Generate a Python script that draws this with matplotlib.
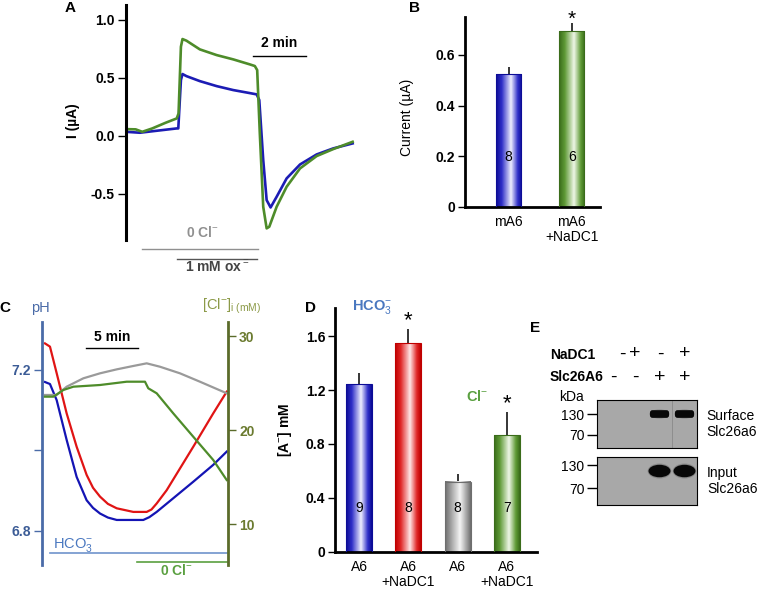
import numpy as np
import matplotlib
matplotlib.use('Agg')
import matplotlib.pyplot as plt
import matplotlib.transforms as mtransforms
from matplotlib.colors import LinearSegmentedColormap
from matplotlib.patches import Rectangle, Ellipse, FancyBboxPatch

plt.rcParams['font.family'] = ['Liberation Sans', 'DejaVu Sans']
plt.rcParams['mathtext.fontset'] = 'custom'
plt.rcParams['mathtext.rm'] = 'Liberation Sans'
plt.rcParams['mathtext.it'] = 'Liberation Sans:italic'
plt.rcParams['mathtext.bf'] = 'Liberation Sans:bold'

# ---- panel A: current traces (time in min, current in uA)
tA_blue = [0.0, 0.54, 1.18, 1.94, 2.0, 2.1, 2.16, 2.31, 2.82, 3.46, 4.09, 4.72, 4.98, 5.08,
           5.23, 5.36, 5.51, 5.74, 6.12, 6.63, 7.26, 7.89, 8.63]
iA_blue = [0.034, 0.026, 0.043, 0.063, 0.063, 0.479, 0.531, 0.513, 0.47, 0.427, 0.393, 0.367,
           0.356, 0.307, -0.209, -0.554, -0.617, -0.525, -0.367, -0.247, -0.161, -0.109, -0.066]
tA_green = [0.0, 0.38, 0.63, 1.01, 1.52, 1.94, 2.01, 2.1, 2.16, 2.31, 2.82, 3.46, 4.09, 4.72,
            4.91, 5.0, 5.1, 5.23, 5.36, 5.46, 5.74, 6.12, 6.63, 7.26, 7.89, 8.63]
iA_green = [0.057, 0.055, 0.034, 0.063, 0.112, 0.149, 0.192, 0.766, 0.832, 0.818, 0.743, 0.694,
            0.657, 0.614, 0.6, 0.565, 0.02, -0.611, -0.797, -0.783, -0.611, -0.439, -0.281,
            -0.175, -0.115, -0.052]
zero_cl_A = [0.61, 5.04]
oxalate_A = [1.94, 5.0]

# ---- panel B: mean currents
b_labels = ['mA6', 'mA6\n+NaDC1']
b_values = [0.525, 0.696]
b_errors = [0.029, 0.029]
b_n = ['8', '6']
b_star = [False, True]

# ---- panel C: pH (left axis) and [Cl-]i (right axis) vs time in min
tC = [0.28, 0.75, 1.38, 2.32, 3.26, 4.2, 4.8, 5.46, 6.2, 7.03, 8.59, 9.85, 10.3, 10.79, 11.73,
      12.98, 14.23, 16.11, 17.38]
ph_red = [7.266, 7.258, 7.192, 7.092, 7.009, 6.939, 6.907, 6.885, 6.867, 6.856, 6.847, 6.847,
          6.853, 6.868, 6.901, 6.955, 7.009, 7.092, 7.146]
tC_blue = [0.28, 0.75, 1.38, 2.32, 3.26, 4.2, 4.8, 5.46, 6.2, 7.03, 8.59, 9.53, 10.1, 10.79,
           12.35, 14.23, 16.11, 17.38]
ph_blue = [7.17, 7.165, 7.125, 7.026, 6.934, 6.876, 6.857, 6.843, 6.833, 6.827, 6.827, 6.827,
           6.834, 6.847, 6.881, 6.922, 6.964, 6.997]
tC_gray = [0.28, 1.38, 2.32, 3.89, 5.46, 7.03, 8.59, 9.85, 11.1, 12.98, 14.86, 17.38]
cl_gray = [23.74, 23.74, 24.62, 25.51, 26.04, 26.46, 26.82, 27.1, 26.74, 26.04, 25.15, 23.92]
tC_green = [0.28, 1.07, 2.01, 2.95, 5.46, 7.97, 9.69, 10.0, 10.79, 12.35, 14.23, 16.11, 17.38]
cl_green = [23.56, 23.56, 24.27, 24.62, 24.8, 25.15, 25.15, 24.45, 23.92, 21.79, 19.31, 16.84,
            14.71]
hco3_C = [0.75, 17.38]
zero_cl_C = [8.9, 17.38]

# ---- panel D: anion transport
d_labels = ['A6', 'A6\n+NaDC1', 'A6', 'A6\n+NaDC1']
d_values = [1.245, 1.55, 0.52, 0.866]
d_errors = [0.085, 0.105, 0.058, 0.171]
d_n = ['9', '8', '8', '7']
d_star = [False, True, False, True]

# ---- panel E: western blot
nadc1_signs = ['-', '+', '-', '+']
slc_signs = ['-', '-', '+', '+']
surface_bands = [0, 0, 1, 1]
input_bands = [0, 0, 1, 1]

W, H = 757, 589
fig = plt.figure(figsize=(W / 100, H / 100), dpi=100)


def px_axes(x0, y0, x1, y1):
    return fig.add_axes([x0 / W, 1 - y1 / H, (x1 - x0) / W, (y1 - y0) / H])


def ftext(x, y, s, **kw):
    fig.text(x / W, 1 - y / H, s, **kw)


def shaded_bar(ax, x, h, w, dark, mid, light):
    cmap = LinearSegmentedColormap.from_list(
        'bar', [(0, dark), (0.22, mid), (0.58, light), (0.85, mid), (1, dark)])
    ax.imshow(np.linspace(0, 1, 64)[None, :], cmap=cmap, aspect='auto',
              extent=[x - w / 2, x + w / 2, 0, h], zorder=2)
    ax.add_patch(Rectangle((x - w / 2, 0), w, h, fill=False, ec=dark, lw=0.8, zorder=3))


blue = ('#0c0c96', '#2f2fc8', '#eeeeff')
red = ('#c00000', '#e02828', '#ffe6e6')
gray = ('#6e6e6e', '#a0a0a0', '#f4f4f4')
green = ('#3a6c1a', '#5f9a36', '#eef6e6')
FS = 10

# ================= A
axA = px_axes(125.7, 5, 360, 240)
axA.plot(tA_blue, iA_blue, color='#1c1cb4', lw=1.9)
axA.plot(tA_green, iA_green, color='#4e8c2a', lw=1.9)
axA.set_xlim(0, 8.91)
axA.set_ylim(-0.897, 1.125)
for s in ['top', 'right', 'bottom']:
    axA.spines[s].set_visible(False)
axA.spines['left'].set_linewidth(2.2)
axA.set_xticks([])
axA.set_yticks([-0.5, 0, 0.5, 1.0])
axA.set_yticklabels(['-0.5', '0.0', '0.5', '1.0'], fontweight='bold', fontsize=FS)
axA.tick_params(axis='y', length=6, width=1, pad=2)
axA.set_ylabel('I (µA)', fontweight='bold', fontsize=FS)
axA.yaxis.set_label_coords(-0.195, 0.51)
axA.plot([4.85, 6.85], [0.688, 0.688], color='black', lw=1)
axA.text(5.85, 0.795, '2 min', ha='center', va='center', fontweight='bold', fontsize=FS)
trA = mtransforms.blended_transform_factory(axA.transData, axA.transAxes)
axA.plot(zero_cl_A, [-0.038, -0.038], color='#909090', lw=1, transform=trA, clip_on=False)
axA.plot(oxalate_A, [-0.082, -0.082], color='#555555', lw=1, transform=trA, clip_on=False)
axA.text(2.9, 0.03, r'0 Cl$^{-}$', transform=trA, ha='center', va='center',
         color='#909090', fontweight='bold', fontsize=FS)
axA.text(3.5, -0.115, r'1 mM ox$^{=}$', transform=trA, ha='center', va='center',
         color='#444444', fontweight='bold', fontsize=FS)

# ================= B
axB = px_axes(465, 17.3, 600, 206.7)
for i, (v, e) in enumerate(zip(b_values, b_errors)):
    c = [blue, green][i]
    shaded_bar(axB, i, v, 0.395, *c)
    axB.vlines(i, v, v + e, color='black', lw=1.1, zorder=1)
    axB.text(i, 0.195, b_n[i], ha='center', va='center', fontsize=FS, zorder=4)
    if b_star[i]:
        axB.text(i, v + e + 0.015, '*', ha='center', va='center', fontsize=15, clip_on=False)
axB.set_xlim(-0.687, 1.445)
axB.set_ylim(0, 0.749)
for s in ['top', 'right']:
    axB.spines[s].set_visible(False)
axB.spines['left'].set_linewidth(2)
axB.spines['bottom'].set_linewidth(2)
axB.set_yticks([0, 0.2, 0.4, 0.6])
axB.set_yticklabels(['0', '0.2', '0.4', '0.6'], fontweight='bold', fontsize=FS)
axB.tick_params(axis='y', length=5, width=1, pad=2)
axB.set_xticks([0, 1])
axB.set_xticklabels(b_labels, fontsize=FS, linespacing=1.1)
axB.tick_params(axis='x', length=0, pad=6)
axB.set_ylabel('Current (µA)', fontsize=FS)
axB.yaxis.set_label_coords(-0.38, 0.47)

# ================= C
steel = '#4a6ba8'
olive = '#5b6b2a'
axC = px_axes(42, 321.7, 228, 565)
axC.plot(tC, ph_red, color='#e01414', lw=1.6)
axC.plot(tC_blue, ph_blue, color='#1414b4', lw=1.6)
axC.set_xlim(0, 17.5)
axC.set_ylim(6.715, 7.320)
axC2 = axC.twinx()
axC2.plot(tC_gray, cl_gray, color='#9a9a9a', lw=1.6)
axC2.plot(tC_green, cl_green, color='#4e8c2a', lw=1.6)
axC2.set_ylim(5.69, 31.52)
for ax in (axC, axC2):
    for s in ['top', 'bottom']:
        ax.spines[s].set_visible(False)
    ax.patch.set_visible(False)
axC.spines['right'].set_visible(False)
axC2.spines['left'].set_visible(False)
axC.spines['left'].set_color(steel)
axC.spines['left'].set_linewidth(2)
axC2.spines['right'].set_color(olive)
axC2.spines['right'].set_linewidth(2)
axC.set_xticks([])
axC.set_yticks([6.8, 7.0, 7.2])
axC.set_yticklabels(['6.8', '', '7.2'], fontweight='bold', fontsize=FS, color='#3c5c96')
axC.tick_params(axis='y', length=6, width=1, color=steel, pad=2)
axC2.set_yticks([10, 20, 30])
axC2.set_yticklabels(['10', '20', '30'], fontweight='bold', fontsize=FS, color='#6b7b30')
axC2.tick_params(axis='y', length=6, width=1, color=olive, pad=2)
axC.plot(hco3_C, [6.746, 6.746], color='#6f93cc', lw=1.2)
axC.plot(zero_cl_C, [6.723, 6.723], color='#5aa040', lw=1.2, clip_on=False)
axC.text(2.9, 6.764, r'HCO$_3^{-}$', ha='center', va='center', color='#4a78c0', fontsize=10.5)
axC.text(12.65, 6.702, r'0 Cl$^{-}$', ha='center', va='center', color='#5aa040',
         fontsize=FS, fontweight='bold', clip_on=False)
axC.plot([4.14, 9.06], [7.254, 7.254], color='black', lw=1)
axC.text(6.6, 7.283, '5 min', ha='center', va='center', fontweight='bold', fontsize=FS)
ftext(40, 308, 'pH', ha='center', va='center', color=steel, fontsize=10.5)
ftext(232, 306, r'[Cl$^{-}$]$_{\mathregular{i\ (mM)}}$', ha='center', va='center',
      color='#8c9a48', fontsize=10.5)

# ================= D
axD = px_axes(335, 308, 537, 551.7)
for i, (v, e) in enumerate(zip(d_values, d_errors)):
    c = [blue, red, gray, green][i]
    shaded_bar(axD, i, v, 0.527, *c)
    axD.vlines(i, v, v + e, color='black', lw=1.1, zorder=1)
    axD.text(i, 0.325, d_n[i], ha='center', va='center', fontsize=FS, zorder=4)
    if d_star[i]:
        axD.text(i, v + e + 0.06, '*', ha='center', va='center', fontsize=16, clip_on=False)
axD.set_xlim(-0.487, 3.61)
axD.set_ylim(0, 1.81)
for s in ['top', 'right']:
    axD.spines[s].set_visible(False)
axD.spines['left'].set_linewidth(2)
axD.spines['bottom'].set_linewidth(2)
axD.set_yticks([0, 0.4, 0.8, 1.2, 1.6])
axD.set_yticklabels(['0', '0.4', '0.8', '1.2', '1.6'], fontweight='bold', fontsize=FS)
axD.tick_params(axis='y', length=5, width=1, pad=2)
axD.set_xticks(range(4))
axD.set_xticklabels(d_labels, fontsize=FS, linespacing=1.1)
axD.tick_params(axis='x', length=0, pad=6)
axD.set_ylabel(r'[A$^{-}$] mM', fontweight='bold', fontsize=FS)
axD.yaxis.set_label_coords(-0.205, 0.5)
axD.text(0.27, 1.82, r'HCO$_3^{-}$', ha='center', va='center', color='#4a78c0',
         fontsize=10.5, fontweight='bold', clip_on=False)
axD.text(2.4, 1.15, r'Cl$^{-}$', ha='center', va='center', color='#5aa040',
         fontsize=10.5, fontweight='bold')

# ================= E
ftext(550, 355, 'NaDC1', ha='left', va='center', fontweight='bold', fontsize=FS)
ftext(550, 377, 'Slc26A6', ha='left', va='center', fontweight='bold', fontsize=FS)
for x, s in zip([622, 635, 660, 685], nadc1_signs):
    ftext(x, 354, s, ha='center', va='center', fontsize=14)
for x, s in zip([613, 635, 660, 685], slc_signs):
    ftext(x, 377, s, ha='center', va='center', fontsize=14)
ftext(571, 397, 'kDa', ha='center', va='center', fontsize=FS)


def blot(ax, bands, marks, band_h, band_w, oval):
    ax.set_facecolor('#a8a8a8')
    for lane, v in zip(range(1, 5), bands):
        if not v:
            continue
        ax.add_patch(Ellipse((lane, 0.708), band_w * 1.08, band_h * 1.2,
                             color='#303030', alpha=0.25 * v, lw=0))
        if oval:
            ax.add_patch(Ellipse((lane, 0.708), band_w, band_h, color='#080808', lw=0))
        else:
            ax.add_patch(FancyBboxPatch((lane - band_w / 2, 0.708 - band_h / 2), band_w, band_h,
                                        boxstyle='round,pad=0,rounding_size=0.1',
                                        mutation_aspect=0.5, color='#080808', lw=0))
    ax.set_xlim(0.5, 4.5)
    ax.set_ylim(0, 1)
    ax.set_xticks([])
    ax.set_yticks(marks)
    ax.set_yticklabels(['130', '70'], fontsize=FS)
    ax.tick_params(axis='y', length=7, width=1, pad=2)
    for s in ax.spines.values():
        s.set_linewidth(0.8)


axE1 = px_axes(597, 400, 697, 448)
blot(axE1, surface_bands, [0.708, 0.271], 0.16, 0.76, False)
axE1.axvline(3.5, color='#8a8a8a', lw=0.6)
axE2 = px_axes(597, 457, 697, 505)
blot(axE2, input_bands, [0.833, 0.354], 0.26, 0.88, True)
ftext(706, 424, 'Surface\nSlc26a6', ha='left', va='center', fontsize=FS, linespacing=1.15)
ftext(707, 481, 'Input\nSlc26a6', ha='left', va='center', fontsize=FS, linespacing=1.15)

# panel letters
for x, y, s in [(70, 8, 'A'), (415, 8, 'B'), (5, 308, 'C'), (311, 308, 'D'), (535, 328, 'E')]:
    ftext(x, y, s, ha='center', va='center', fontweight='bold', fontsize=11)

fig.savefig('out.png', dpi=100)
